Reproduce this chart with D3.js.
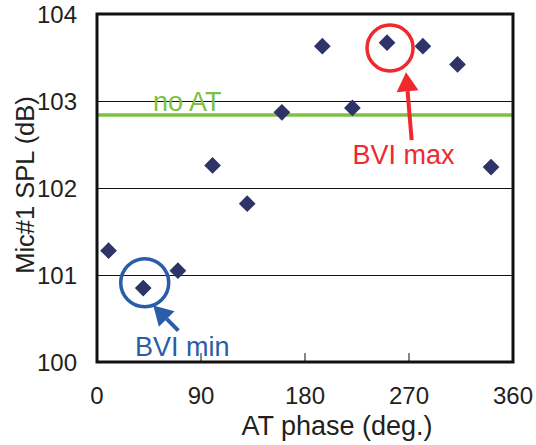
<!DOCTYPE html>
<html>
<head>
<meta charset="utf-8">
<script src="https://cdn.jsdelivr.net/npm/d3@7"></script>
<style>
  html, body { margin: 0; padding: 0; background: #fff; }
  svg { display: block; font-family: "Liberation Sans", Arial, sans-serif; }
</style>
</head>
<body>
<svg id="chart" width="536" height="445"></svg>
<script>
// ---- data ----
const phases = [10, 40, 70, 100, 130, 160, 195, 221, 251, 282, 312, 341];
const spl    = [101.28, 100.85, 101.05, 102.26, 101.82, 102.87, 103.63, 102.92, 103.67, 103.63, 103.42, 102.24];
const noAT   = 102.84;
const xTicks = [0, 90, 180, 270, 360];
const yTicks = [100, 101, 102, 103, 104];
const gridValues = [101, 102, 103];
const xTitle = "AT phase (deg.)";
const yTitle = "Mic#1 SPL (dB)";
const noATLabel = "no AT";
// annotations in data units: circle centre, arrow tail -> tip, label anchor
const bviMax = { label: "BVI max", cx: 253.6, cy: 103.61, tail: [272.3, 102.55], tip: [267.4, 103.33], text: [221.2, 102.28] };
const bviMin = { label: "BVI min", cx: 41.3, cy: 100.91, tail: [70.4, 100.36], tip: [48.7, 100.65], text: [32.9, 100.07] };

// ---- layout ----
const svg = d3.select("#chart");
const L = 97, R = 513, T = 14, B = 362;
const x = d3.scaleLinear().domain([0, 360]).range([L, R]);
const y = d3.scaleLinear().domain([100, 104]).range([B, T]);

// gridlines
svg.append("g").selectAll("line").data(gridValues).join("line")
  .attr("x1", L).attr("x2", R)
  .attr("y1", d => Math.round(y(d)) + 0.5).attr("y2", d => Math.round(y(d)) + 0.5)
  .attr("stroke", "#111").attr("stroke-width", 1);

// x ticks (inside, at bottom)
svg.append("g").selectAll("line").data(xTicks.slice(1, -1)).join("line")
  .attr("x1", d => x(d)).attr("x2", d => x(d))
  .attr("y1", B).attr("y2", B - 9)
  .attr("stroke", "#111").attr("stroke-width", 1);

// no AT line
svg.append("line")
  .attr("x1", L).attr("x2", R).attr("y1", y(noAT)).attr("y2", y(noAT))
  .attr("stroke", "#7cc242").attr("stroke-width", 3.5);
svg.append("text")
  .attr("x", x(48.5)).attr("y", y(102.89))
  .attr("fill", "#7cc242").attr("font-size", 27)
  .text(noATLabel);

// frame
svg.append("rect")
  .attr("x", L).attr("y", T).attr("width", R - L).attr("height", B - T)
  .attr("fill", "none").attr("stroke", "#111").attr("stroke-width", 3);

// tick labels
svg.append("g").selectAll("text").data(yTicks).join("text")
  .attr("x", 77).attr("y", d => y(d))
  .attr("dy", "0.36em").attr("text-anchor", "end")
  .attr("font-size", 24).attr("fill", "#231f20")
  .text(d => d);
svg.append("g").selectAll("text").data(xTicks).join("text")
  .attr("x", d => x(d)).attr("y", 404)
  .attr("text-anchor", "middle")
  .attr("font-size", 24).attr("fill", "#231f20")
  .text(d => d);

// axis titles
svg.append("text")
  .attr("x", 337).attr("y", 435).attr("text-anchor", "middle")
  .attr("font-size", 27).attr("fill", "#231f20")
  .text(xTitle);
svg.append("text")
  .attr("transform", "translate(34,185) rotate(-90)")
  .attr("text-anchor", "middle")
  .attr("font-size", 25.5).attr("fill", "#231f20")
  .text(yTitle);

// data points (diamonds)
const sym = d3.symbol().type(d3.symbolSquare).size(140);
svg.append("g").selectAll("path").data(phases.map((p, i) => [p, spl[i]])).join("path")
  .attr("d", sym)
  .attr("transform", d => `translate(${x(d[0])},${y(d[1])}) rotate(45)`)
  .attr("fill", "#2e3368");

// annotations
function arrow(a, color) {
  const [x1, y1] = [x(a.tail[0]), y(a.tail[1])];
  const [x2, y2] = [x(a.tip[0]), y(a.tip[1])];
  const ang = Math.atan2(y2 - y1, x2 - x1);
  const headLen = 19, headW = 11;
  const bx = x2 - headLen * Math.cos(ang), by = y2 - headLen * Math.sin(ang);
  svg.append("line")
    .attr("x1", x1).attr("y1", y1).attr("x2", bx).attr("y2", by)
    .attr("stroke", color).attr("stroke-width", 4);
  const px = -Math.sin(ang), py = Math.cos(ang);
  svg.append("path")
    .attr("d", `M${x2},${y2} L${bx + px * headW},${by + py * headW} L${bx - px * headW},${by - py * headW} Z`)
    .attr("fill", color);
}
function annotate(a, color, r) {
  svg.append("circle")
    .attr("cx", x(a.cx)).attr("cy", y(a.cy)).attr("r", r)
    .attr("fill", "none").attr("stroke", color).attr("stroke-width", 3.5);
  arrow(a, color);
  svg.append("text")
    .attr("x", x(a.text[0])).attr("y", y(a.text[1]))
    .attr("fill", color).attr("font-size", 27)
    .text(a.label);
}
annotate(bviMax, "#ee2a2e", 23);
annotate(bviMin, "#2a5ca8", 24);
</script>
</body>
</html>
